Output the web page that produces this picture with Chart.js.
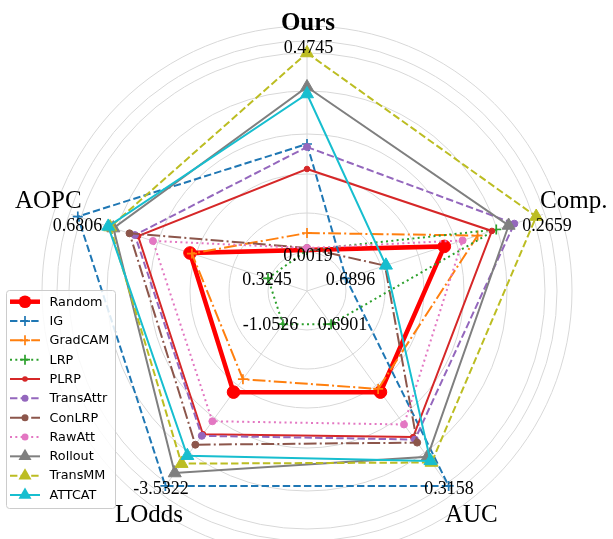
<!DOCTYPE html>
<html>
<head>
<meta charset="utf-8">
<script src="https://cdn.jsdelivr.net/npm/chart.js@4.4.1/dist/chart.umd.min.js"></script>
<style>
  html, body { margin: 0; padding: 0; background: #fff; }
</style>
</head>
<body>
<canvas id="radar" width="613" height="539"></canvas>
<script>
// axes and their tick labels (inner = score 0, outer = score 1)
const axes = ['Ours', 'Comp.', 'AUC', 'LOdds', 'AOPC'];
const innerTicks = ['0.0019', '0.6896', '0.6901', '-1.0526', '0.3245'];
const outerTicks = ['0.4745', '0.2659', '0.3158', '-3.5322', '0.6806'];

// normalised scores per method, order follows `axes` (null = no value)
const random    = [null, 0.517, 0.42, 0.42, 0.41];
const ig        = [0.53, 0.0, 1.0, 1.0, 1.0];
const gradcam   = [0.085, 0.692, 0.40, 0.34, 0.40];
const lrp       = [0.0, 0.79, 0.0, 0.0, 0.0];
const plrp      = [0.405, 0.767, 0.698, 0.68, 0.683];
const transattr = [0.515, 0.885, 0.713, 0.69, 0.70];
const conlrp    = [0.01, 0.205, 0.732, 0.745, 0.728];
const rawatt    = [0.01, 0.613, 0.62, 0.60, 0.605];
const rollout   = [0.815, 0.855, 0.82, 0.92, 0.813];
const transmm   = [0.985, 1.0, 0.855, 0.862, 0.83];
const attcat    = [0.78, 0.21, 0.845, 0.813, 0.84];

const dashed = [7.4, 3.2];
const dashdot = [12.8, 3.2, 2, 3.2];
const dotted = [2, 3.3];

const series = [
  { label: 'Random',    data: random,    color: '#ff0000', width: 4.5, dash: [],      marker: 'circle',   size: 6.3 },
  { label: 'IG',        data: ig,        color: '#1f77b4', width: 2,   dash: dashed,  marker: 'cross',    size: 5 },
  { label: 'GradCAM',   data: gradcam,   color: '#ff7f0e', width: 2,   dash: dashdot, marker: 'cross',    size: 5 },
  { label: 'LRP',       data: lrp,       color: '#2ca02c', width: 2,   dash: dotted,  marker: 'cross',    size: 5 },
  { label: 'PLRP',      data: plrp,      color: '#d62728', width: 2,   dash: [],      marker: 'circle',   size: 2.8 },
  { label: 'TransAttr', data: transattr, color: '#9467bd', width: 2,   dash: dashed,  marker: 'circle',   size: 3.5 },
  { label: 'ConLRP',    data: conlrp,    color: '#8c564b', width: 2,   dash: dashdot, marker: 'circle',   size: 3.5 },
  { label: 'RawAtt',    data: rawatt,    color: '#e377c2', width: 2,   dash: dotted,  marker: 'circle',   size: 3.5 },
  { label: 'Rollout',   data: rollout,   color: '#7f7f7f', width: 2,   dash: [],      marker: 'triangle', size: 7.5 },
  { label: 'TransMM',   data: transmm,   color: '#bcbd22', width: 2,   dash: dashed,  marker: 'triangle', size: 7.5 },
  { label: 'ATTCAT',    data: attcat,    color: '#17becf', width: 2,   dash: [],      marker: 'triangle', size: 7.5 }
];

// radial scale: 200px per score unit, score 0 sits 41px from the centre
const SCALE_MIN = -0.205;
const SCALE_MAX = 1.035;
const gridRings = [-0.01, 0.185, 0.38, 0.58, 0.795, 0.985, 1.045, 1.12];

function drawMarker(ctx, style, x, y, r, color, bw) {
  ctx.save();
  ctx.setLineDash([]);
  ctx.fillStyle = color;
  ctx.strokeStyle = color;
  ctx.lineWidth = bw;
  ctx.beginPath();
  if (style === 'circle') {
    ctx.arc(x, y, r, 0, Math.PI * 2);
    ctx.fill();
  } else if (style === 'cross') {
    ctx.moveTo(x - r, y); ctx.lineTo(x + r, y);
    ctx.moveTo(x, y - r); ctx.lineTo(x, y + r);
    ctx.stroke();
  } else {
    const e = r * Math.sqrt(3), h = e * Math.sqrt(3) / 2;
    ctx.moveTo(x - e / 2, y + h / 3);
    ctx.lineTo(x + e / 2, y + h / 3);
    ctx.lineTo(x, y - 2 * h / 3);
    ctx.closePath();
    ctx.fill();
  }
  ctx.restore();
}

// where the axis names sit (alphabetic baseline)
const namePlace = [
  { align: 'center', dx: 1,   dy: -16,  bold: true },
  { align: 'left',   dx: 0,   dy: -7.3 },
  { align: 'left',   dx: -6,  dy: 32.3 },
  { align: 'right',  dx: 20,  dy: 32.3 },
  { align: 'right',  dx: 7.7, dy: -7.3 }
];
const outerShift = [[1.5, 1], [8, 10.4], [-1.4, 0.6], [-2.6, 0.6], [2.5, 11]];
const innerShift = [[1, 6.7], [4.5, 2.4], [11.4, 0.8], [-12.4, 0.8], [-1, 2.4]];

const textPlugin = {
  id: 'radarText',
  afterDraw(chart) {
    const scale = chart.scales.r;
    const ctx = chart.ctx;
    ctx.save();
    ctx.fillStyle = '#000';

    // min / max labels on each axis
    ctx.font = '18px "Liberation Serif", "Times New Roman", serif';
    ctx.textAlign = 'center';
    ctx.textBaseline = 'middle';
    axes.forEach((_, i) => {
      const pi = scale.getPointPosition(i, scale.getDistanceFromCenterForValue(0));
      ctx.fillText(innerTicks[i], pi.x + innerShift[i][0], pi.y + innerShift[i][1]);
      const po = scale.getPointPosition(i, scale.getDistanceFromCenterForValue(1.015));
      ctx.fillText(outerTicks[i], po.x + outerShift[i][0], po.y + outerShift[i][1]);
    });

    // axis names
    ctx.textBaseline = 'alphabetic';
    axes.forEach((name, i) => {
      const pl = namePlace[i];
      const p = scale.getPointPosition(i, 245);
      ctx.font = (pl.bold ? 'bold ' : '') + '25px "Liberation Serif", "Times New Roman", serif';
      ctx.textAlign = pl.align;
      ctx.fillText(name, p.x + pl.dx, p.y + pl.dy);
    });

    // legend box
    const bx = 6.5, by = 290.5, bw = 109, bh = 218;
    ctx.beginPath();
    ctx.roundRect(bx, by, bw, bh, 3);
    ctx.fillStyle = 'rgba(255,255,255,0.85)';
    ctx.fill();
    ctx.strokeStyle = '#cccccc';
    ctx.lineWidth = 1;
    ctx.stroke();

    ctx.font = '12.8px "DejaVu Sans", sans-serif';
    ctx.textAlign = 'left';
    ctx.textBaseline = 'middle';
    series.forEach((s, i) => {
      const y = 301.7 + i * 19.33;
      ctx.save();
      ctx.strokeStyle = s.color;
      ctx.lineWidth = s.width;
      ctx.setLineDash(s.dash);
      ctx.beginPath();
      ctx.moveTo(10, y);
      ctx.lineTo(40, y);
      ctx.stroke();
      ctx.restore();
      drawMarker(ctx, s.marker, 25, y, s.size, s.color, 1.7);
      ctx.fillStyle = '#000';
      ctx.fillText(s.label, 49.5, y + 0.5);
    });
    ctx.restore();
  }
};

new Chart(document.getElementById('radar'), {
  type: 'radar',
  data: {
    labels: axes,
    datasets: series.map((s, i) => ({
      label: s.label,
      data: s.data,
      order: -i,
      fill: false,
      spanGaps: true,
      borderColor: s.color,
      borderWidth: s.width,
      borderDash: s.dash,
      pointStyle: s.marker,
      pointRadius: s.size,
      pointBackgroundColor: s.color,
      pointBorderColor: s.color,
      pointBorderWidth: s.marker === 'cross' ? 1.7 : 1
    }))
  },
  options: {
    responsive: false,
    animation: false,
    events: [],
    layout: { padding: { left: 59, right: 58, top: 43, bottom: 0 } },
    plugins: { legend: { display: false }, tooltip: { enabled: false } },
    scales: {
      r: {
        min: SCALE_MIN,
        max: SCALE_MAX,
        ticks: { display: false },
        pointLabels: { display: false },
        grid: { circular: true, color: '#d8d8d8', lineWidth: 1 },
        angleLines: { color: '#d8d8d8', lineWidth: 1 },
        afterBuildTicks: scale => {
          scale.ticks = gridRings.map(v => ({ value: v }));
        }
      }
    }
  },
  plugins: [textPlugin]
});
</script>
</body>
</html>
